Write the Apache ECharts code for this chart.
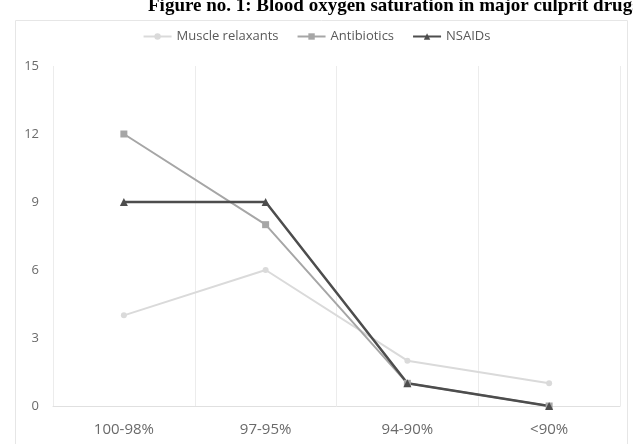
<!DOCTYPE html>
<html><head><meta charset="utf-8">
<script src="https://cdn.jsdelivr.net/npm/echarts@6/dist/echarts.min.js"></script>
<style>html,body{margin:0;padding:0;background:#fff}#c{width:633px;height:444px}</style>
</head><body><div id="c"></div>
<script>
const categories = ['100-98%', '97-95%', '94-90%', '<90%'];
const muscleRelaxants = [4, 6, 2, 1];
const antibiotics = [12, 8, 1, 0];
const nsaids = [9, 9, 1, 0];
const yTicks = [0, 3, 6, 9, 12, 15];

const chart = echarts.init(document.getElementById('c'));
const font = "'Open Sans', sans-serif";
chart.setOption({
  animation: false,
  title: {
    text: 'Figure no. 1: Blood oxygen saturation in major culprit drugs',
    left: 143, top: -8,
    textStyle: { fontFamily: "'Liberation Serif', serif", fontWeight: 'bold', fontSize: 19, color: '#000' }
  },
  graphic: [{
    type: 'rect', shape: { x: 15.5, y: 20.5, width: 612, height: 430 },
    style: { fill: 'none', stroke: '#e6e6e6', lineWidth: 1 }, z: -1
  }],
  legend: {
    top: 25, left: 'center', itemGap: 18, itemWidth: 28, itemHeight: 8,
    textStyle: { fontFamily: font, fontSize: 13, color: '#595959' },
    data: ['Muscle relaxants', 'Antibiotics', 'NSAIDs']
  },
  grid: { left: 53, right: 13, top: 66, bottom: 38, containLabel: false },
  xAxis: {
    type: 'category', data: categories, boundaryGap: true,
    axisLine: { lineStyle: { color: '#e0e0e0' } },
    axisTick: { show: false },
    splitLine: { show: true, lineStyle: { color: '#ececec', width: 1 } },
    axisLabel: { fontFamily: font, fontSize: 15, color: '#6a6a6a', margin: 16 }
  },
  yAxis: {
    type: 'value', min: 0, max: 15, interval: 3,
    axisLine: { show: false }, axisTick: { show: false },
    splitLine: { show: false },
    axisLabel: { fontFamily: font, fontSize: 13, color: '#6a6a6a', margin: 14,
      formatter: v => yTicks.includes(v) ? String(v) : '' }
  },
  series: [
    { name: 'Muscle relaxants', type: 'line', data: muscleRelaxants,
      symbol: 'circle', symbolSize: 6,
      lineStyle: { color: '#dadada', width: 2 }, itemStyle: { color: '#dadada' } },
    { name: 'Antibiotics', type: 'line', data: antibiotics,
      symbol: 'rect', symbolSize: 7,
      lineStyle: { color: '#a6a6a6', width: 2 }, itemStyle: { color: '#a6a6a6' } },
    { name: 'NSAIDs', type: 'line', data: nsaids,
      symbol: 'triangle', symbolSize: 8,
      lineStyle: { color: '#4d4d4d', width: 2.5 }, itemStyle: { color: '#4d4d4d' } }
  ]
});
</script></body></html>
